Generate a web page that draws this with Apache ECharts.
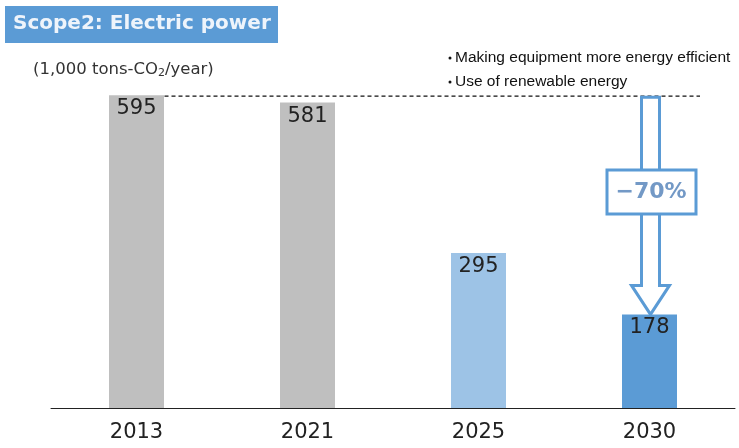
<!DOCTYPE html>
<html><head><meta charset="utf-8">
<script src="https://cdn.jsdelivr.net/npm/echarts@6/dist/echarts.min.js"></script>
<style>html,body{margin:0;padding:0;background:#fff}#c{width:739px;height:448px}</style>
</head><body><div id="c"></div>
<script>
const categories = ['2013', '2021', '2025', '2030'];
const values = [595, 581, 295, 178];
const barColors = ['#bfbfbf', '#bfbfbf', '#9dc3e6', '#5b9bd5'];
const titleText = 'Scope2: Electric power';
const unitParts = ['(1,000 tons-CO', '2', '/year)'];
const notes = ['Making equipment more energy efficient', 'Use of renewable energy'];
const reductionLabel = '\u221270%';

const chart = echarts.init(document.getElementById('c'));
chart.setOption({
  animation: false,
  grid: { left: 51, right: 4, top: 40, bottom: 40 },
  xAxis: {
    type: 'category', data: categories,
    axisLine: { lineStyle: { color: '#222', width: 1 } },
    axisTick: { show: false },
    axisLabel: { color: '#222', fontSize: 21, fontFamily: 'DejaVu Sans', margin: 14 }
  },
  yAxis: { type: 'value', min: 0, max: 700, show: false, splitLine: { show: false } },
  series: [{
    type: 'bar', barWidth: 55,
    data: values.map((v, i) => ({ value: v, itemStyle: { color: barColors[i] } })),
    label: { show: true, position: 'insideTop', distance: 3, color: '#222', fontSize: 21, fontFamily: 'DejaVu Sans' }
  }]
});

const p0 = chart.convertToPixel({ xAxisIndex: 0, yAxisIndex: 0 }, [0, values[0]]);
const p3 = chart.convertToPixel({ xAxisIndex: 0, yAxisIndex: 0 }, [3, values[3]]);
const ax = p3[0] + 1, topY = p0[1] + 2, tipY = p3[1];
const sw = 9, hw = 19, headH = 29;
const boxTop = 170, boxBot = 214;
const noteFont = '15.5px "Liberation Sans Narrow", "Liberation Sans"';

chart.setOption({
  graphic: [
    { type: 'rect', shape: { x: 5, y: 6, width: 273, height: 37 }, style: { fill: '#5b9bd5' } },
    { type: 'text', x: 13, y: 24, style: { text: titleText, fill: '#eef4fb', font: 'bold 20px "DejaVu Sans"', textVerticalAlign: 'middle' } },
    { type: 'text', x: 33, y: 70, style: {
        text: unitParts[0] + '{s|' + unitParts[1] + '}' + unitParts[2],
        fill: '#333', font: '16.5px "DejaVu Sans"', textVerticalAlign: 'middle',
        rich: { s: { fontSize: 11, fontFamily: 'DejaVu Sans', fill: '#333', padding: [7, 0, 0, 0] } } } },
    { type: 'circle', shape: { cx: 450, cy: 58, r: 1.5 }, style: { fill: '#111' } },
    { type: 'circle', shape: { cx: 450, cy: 82, r: 1.5 }, style: { fill: '#111' } },
    { type: 'text', x: 455, y: 58, style: { text: notes[0], fill: '#111', font: noteFont, textVerticalAlign: 'middle' } },
    { type: 'text', x: 455, y: 82, style: { text: notes[1], fill: '#111', font: noteFont, textVerticalAlign: 'middle' } },
    { type: 'line', shape: { x1: p0[0] + 28, y1: p0[1] + 1, x2: 700, y2: p0[1] + 1 }, style: { stroke: '#111', lineWidth: 1.2, lineDash: [4, 3] } },
    { type: 'polygon', shape: { points: [
        [ax - sw, topY], [ax + sw, topY], [ax + sw, tipY - headH], [ax + hw, tipY - headH],
        [ax, tipY], [ax - hw, tipY - headH], [ax - sw, tipY - headH]
      ] }, style: { fill: '#fff', stroke: '#5b9bd5', lineWidth: 3 }, z: 10 },
    { type: 'rect', shape: { x: 607, y: boxTop, width: 89, height: boxBot - boxTop }, style: { fill: '#fff', stroke: '#5b9bd5', lineWidth: 3 }, z: 11 },
    { type: 'text', x: 651, y: (boxTop + boxBot) / 2, z: 12, style: { text: reductionLabel, fill: '#7399c6', font: 'bold 22px "DejaVu Sans"', textAlign: 'center', textVerticalAlign: 'middle' } }
  ]
});
</script></body></html>
